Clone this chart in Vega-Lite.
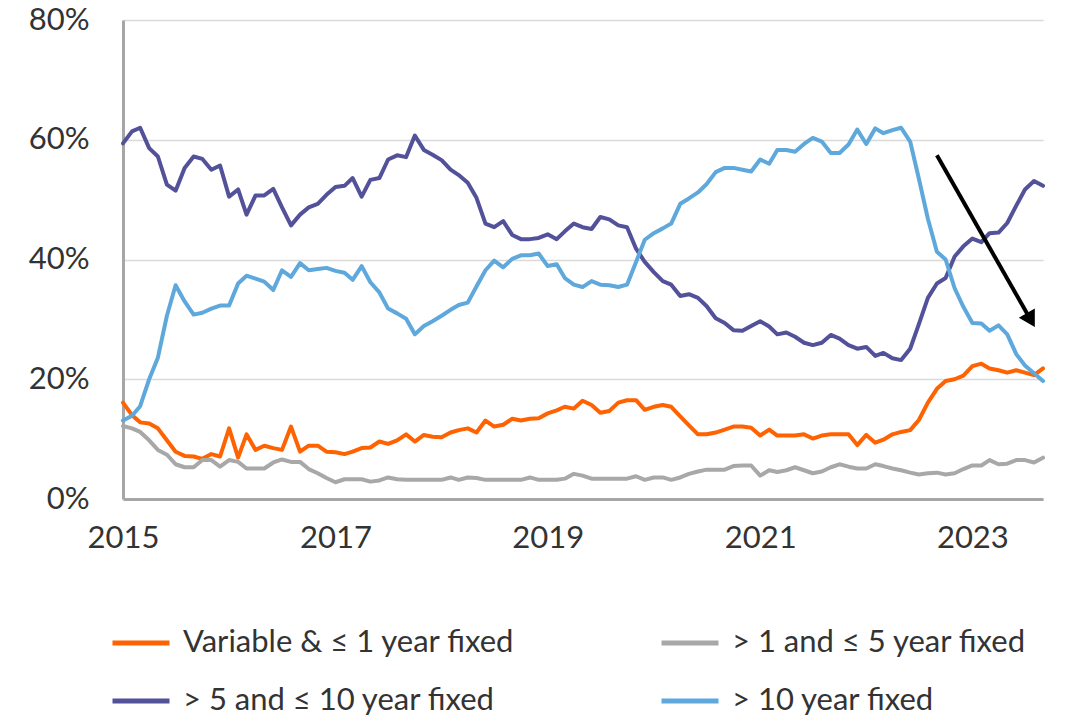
{
  "$schema": "https://vega.github.io/schema/vega-lite/v6.json",
  "width": 920,
  "height": 479,
  "autosize": "none",
  "padding": {"left": 123, "top": 20, "right": 26, "bottom": 222},
  "background": "white",
  "config": {"font": "Lato", "view": {"stroke": null}},
  "layer": [
    {
      "data": {"values": [
        {"d":"2015-01","v":16.1,"g":12.2,"p":59.4,"b":13.1},
        {"d":"2015-02","v":14,"g":11.8,"p":61.4,"b":13.9},
        {"d":"2015-03","v":12.8,"g":11.2,"p":62,"b":15.5},
        {"d":"2015-04","v":12.6,"g":9.8,"p":58.6,"b":20},
        {"d":"2015-05","v":11.8,"g":8.2,"p":57.2,"b":23.6},
        {"d":"2015-06","v":9.8,"g":7.4,"p":52.5,"b":30.6},
        {"d":"2015-07","v":7.9,"g":5.8,"p":51.5,"b":35.7},
        {"d":"2015-08","v":7.2,"g":5.3,"p":55.3,"b":33},
        {"d":"2015-09","v":7.1,"g":5.3,"p":57.2,"b":30.8},
        {"d":"2015-10","v":6.7,"g":6.5,"p":56.8,"b":31.1},
        {"d":"2015-11","v":7.5,"g":6.5,"p":55,"b":31.8},
        {"d":"2015-12","v":7.1,"g":5.4,"p":55.7,"b":32.3},
        {"d":"2016-01","v":11.8,"g":6.5,"p":50.5,"b":32.3},
        {"d":"2016-02","v":6.9,"g":6.2,"p":51.7,"b":36},
        {"d":"2016-03","v":10.8,"g":5.1,"p":47.5,"b":37.3},
        {"d":"2016-04","v":8.2,"g":5.1,"p":50.7,"b":36.8},
        {"d":"2016-05","v":8.9,"g":5.1,"p":50.7,"b":36.3},
        {"d":"2016-06","v":8.5,"g":6.1,"p":51.8,"b":34.9},
        {"d":"2016-07","v":8.2,"g":6.6,"p":48.7,"b":38.2},
        {"d":"2016-08","v":12.1,"g":6.2,"p":45.7,"b":37.1},
        {"d":"2016-09","v":7.9,"g":6.2,"p":47.5,"b":39.4},
        {"d":"2016-10","v":8.9,"g":5,"p":48.7,"b":38.2},
        {"d":"2016-11","v":8.9,"g":4.3,"p":49.3,"b":38.4},
        {"d":"2016-12","v":7.9,"g":3.5,"p":50.8,"b":38.6},
        {"d":"2017-01","v":7.8,"g":2.8,"p":52.1,"b":38.1},
        {"d":"2017-02","v":7.5,"g":3.3,"p":52.3,"b":37.8},
        {"d":"2017-03","v":7.9,"g":3.3,"p":53.6,"b":36.6},
        {"d":"2017-04","v":8.5,"g":3.3,"p":50.5,"b":38.9},
        {"d":"2017-05","v":8.6,"g":2.9,"p":53.3,"b":36.2},
        {"d":"2017-06","v":9.6,"g":3.1,"p":53.6,"b":34.5},
        {"d":"2017-07","v":9.2,"g":3.6,"p":56.7,"b":31.8},
        {"d":"2017-08","v":9.8,"g":3.3,"p":57.4,"b":31},
        {"d":"2017-09","v":10.8,"g":3.2,"p":57.1,"b":30.1},
        {"d":"2017-10","v":9.6,"g":3.2,"p":60.7,"b":27.5},
        {"d":"2017-11","v":10.7,"g":3.2,"p":58.3,"b":28.9},
        {"d":"2017-12","v":10.4,"g":3.2,"p":57.5,"b":29.7},
        {"d":"2018-01","v":10.3,"g":3.2,"p":56.6,"b":30.6},
        {"d":"2018-02","v":11.1,"g":3.6,"p":55,"b":31.6},
        {"d":"2018-03","v":11.5,"g":3.2,"p":54.1,"b":32.4},
        {"d":"2018-04","v":11.8,"g":3.6,"p":52.8,"b":32.8},
        {"d":"2018-05","v":11.1,"g":3.5,"p":50.3,"b":35.5},
        {"d":"2018-06","v":13.1,"g":3.2,"p":46,"b":38.2},
        {"d":"2018-07","v":12.1,"g":3.2,"p":45.4,"b":39.8},
        {"d":"2018-08","v":12.4,"g":3.2,"p":46.4,"b":38.7},
        {"d":"2018-09","v":13.4,"g":3.2,"p":44.1,"b":40.1},
        {"d":"2018-10","v":13.1,"g":3.2,"p":43.4,"b":40.7},
        {"d":"2018-11","v":13.4,"g":3.6,"p":43.4,"b":40.7},
        {"d":"2018-12","v":13.5,"g":3.2,"p":43.6,"b":41},
        {"d":"2019-01","v":14.3,"g":3.2,"p":44.2,"b":38.9},
        {"d":"2019-02","v":14.8,"g":3.2,"p":43.4,"b":39.2},
        {"d":"2019-03","v":15.4,"g":3.4,"p":44.7,"b":36.9},
        {"d":"2019-04","v":15.1,"g":4.2,"p":46,"b":35.8},
        {"d":"2019-05","v":16.4,"g":3.9,"p":45.4,"b":35.4},
        {"d":"2019-06","v":15.7,"g":3.4,"p":45.1,"b":36.4},
        {"d":"2019-07","v":14.4,"g":3.4,"p":47.1,"b":35.8},
        {"d":"2019-08","v":14.7,"g":3.4,"p":46.7,"b":35.7},
        {"d":"2019-09","v":16.1,"g":3.4,"p":45.7,"b":35.4},
        {"d":"2019-10","v":16.5,"g":3.4,"p":45.4,"b":35.8},
        {"d":"2019-11","v":16.5,"g":3.8,"p":41.8,"b":39.6},
        {"d":"2019-12","v":14.9,"g":3.2,"p":39.6,"b":43.3},
        {"d":"2020-01","v":15.4,"g":3.6,"p":37.9,"b":44.4},
        {"d":"2020-02","v":15.7,"g":3.6,"p":36.4,"b":45.2},
        {"d":"2020-03","v":15.4,"g":3.2,"p":35.8,"b":46},
        {"d":"2020-04","v":13.8,"g":3.6,"p":33.9,"b":49.3},
        {"d":"2020-05","v":12.3,"g":4.2,"p":34.2,"b":50.2},
        {"d":"2020-06","v":10.8,"g":4.6,"p":33.6,"b":51.2},
        {"d":"2020-07","v":10.8,"g":4.9,"p":32.2,"b":52.6},
        {"d":"2020-08","v":11.1,"g":4.9,"p":30.2,"b":54.6},
        {"d":"2020-09","v":11.6,"g":4.9,"p":29.4,"b":55.3},
        {"d":"2020-10","v":12.1,"g":5.5,"p":28.2,"b":55.3},
        {"d":"2020-11","v":12.1,"g":5.6,"p":28.1,"b":55},
        {"d":"2020-12","v":11.9,"g":5.6,"p":28.9,"b":54.7},
        {"d":"2021-01","v":10.6,"g":3.9,"p":29.7,"b":56.7},
        {"d":"2021-02","v":11.6,"g":4.8,"p":28.8,"b":56},
        {"d":"2021-03","v":10.6,"g":4.5,"p":27.5,"b":58.3},
        {"d":"2021-04","v":10.6,"g":4.8,"p":27.8,"b":58.3},
        {"d":"2021-05","v":10.6,"g":5.3,"p":27.1,"b":58},
        {"d":"2021-06","v":10.8,"g":4.8,"p":26.1,"b":59.3},
        {"d":"2021-07","v":10.1,"g":4.3,"p":25.7,"b":60.3},
        {"d":"2021-08","v":10.6,"g":4.6,"p":26.1,"b":59.7},
        {"d":"2021-09","v":10.8,"g":5.3,"p":27.4,"b":57.8},
        {"d":"2021-10","v":10.8,"g":5.8,"p":26.8,"b":57.8},
        {"d":"2021-11","v":10.8,"g":5.4,"p":25.7,"b":59.2},
        {"d":"2021-12","v":9,"g":5.1,"p":25.1,"b":61.7},
        {"d":"2022-01","v":10.7,"g":5.1,"p":25.4,"b":59.3},
        {"d":"2022-02","v":9.4,"g":5.8,"p":23.9,"b":61.9},
        {"d":"2022-03","v":9.9,"g":5.5,"p":24.4,"b":61.1},
        {"d":"2022-04","v":10.8,"g":5.1,"p":23.5,"b":61.6},
        {"d":"2022-05","v":11.2,"g":4.8,"p":23.2,"b":62},
        {"d":"2022-06","v":11.5,"g":4.4,"p":25.1,"b":59.7},
        {"d":"2022-07","v":13.2,"g":4.1,"p":29.2,"b":53.5},
        {"d":"2022-08","v":16.1,"g":4.3,"p":33.6,"b":46.8},
        {"d":"2022-09","v":18.4,"g":4.4,"p":36,"b":41.3},
        {"d":"2022-10","v":19.7,"g":4.1,"p":36.9,"b":40},
        {"d":"2022-11","v":20,"g":4.3,"p":40.5,"b":35.2},
        {"d":"2022-12","v":20.6,"g":5,"p":42.2,"b":32.1},
        {"d":"2023-01","v":22.2,"g":5.6,"p":43.5,"b":29.4},
        {"d":"2023-02","v":22.6,"g":5.6,"p":42.9,"b":29.3},
        {"d":"2023-03","v":21.8,"g":6.5,"p":44.4,"b":28.1},
        {"d":"2023-04","v":21.5,"g":5.8,"p":44.5,"b":29},
        {"d":"2023-05","v":21.1,"g":5.9,"p":46.1,"b":27.5},
        {"d":"2023-06","v":21.5,"g":6.5,"p":49,"b":24.2},
        {"d":"2023-07","v":21.1,"g":6.5,"p":51.7,"b":22.3},
        {"d":"2023-08","v":20.7,"g":6.1,"p":53.1,"b":21},
        {"d":"2023-09","v":21.8,"g":6.9,"p":52.3,"b":19.7}
      ]},
      "transform": [{"fold": ["v", "g", "p", "b"], "as": ["s", "val"]}],
      "mark": {"type": "line", "strokeWidth": 4, "strokeJoin": "round", "strokeCap": "round"},
      "encoding": {
        "x": {
          "field": "d", "type": "temporal",
          "scale": {"type": "utc", "domain": [{"year": 2015, "month": 1, "date": 1, "utc": true}, {"year": 2023, "month": 9, "date": 1, "utc": true}]},
          "axis": {
            "title": null, "grid": false, "ticks": false, "labelFlush": false,
            "values": [{"year": 2015, "month": 1, "date": 1, "utc": true}, {"year": 2017, "month": 1, "date": 1, "utc": true}, {"year": 2019, "month": 1, "date": 1, "utc": true}, {"year": 2021, "month": 1, "date": 1, "utc": true}, {"year": 2023, "month": 1, "date": 1, "utc": true}],
            "labelExpr": "utcFormat(datum.value, '%Y')",
            "domainColor": "#A6A6A6", "domainWidth": 3,
            "labelFontSize": 31, "labelColor": "#333333", "labelPadding": 24
          }
        },
        "y": {
          "field": "val", "type": "quantitative",
          "scale": {"domain": [0, 80]},
          "axis": {
            "title": null, "ticks": false, "values": [0, 20, 40, 60, 80],
            "labelExpr": "datum.value + '%'",
            "grid": true, "gridColor": "#D9D9D9", "gridWidth": 1.5,
            "domainColor": "#A6A6A6", "domainWidth": 3,
            "labelFontSize": 31, "labelColor": "#333333", "labelPadding": 34
          }
        },
        "color": {
          "field": "s", "type": "nominal",
          "scale": {"domain": ["v", "g", "p", "b"], "range": ["#FF6200", "#A8A8A8", "#525199", "#5EA8DC"]},
          "legend": {
            "title": null, "orient": "none", "legendX": -13, "legendY": 592,
            "direction": "horizontal", "columns": 2, "padding": 0,
            "symbolType": "stroke", "symbolSize": 3249, "symbolStrokeWidth": 5,
            "labelFontSize": 31, "labelColor": "#333333", "labelOffset": 11, "labelLimit": 0,
            "columnPadding": 136, "rowPadding": 12,
            "labelExpr": "{'v': 'Variable & ≤ 1 year fixed', 'g': '> 1 and ≤ 5 year fixed', 'p': '> 5 and ≤ 10 year fixed', 'b': '> 10 year fixed'}[datum.value]"
          }
        }
      }
    },
    {
      "data": {"values": [{"x1": "2022-09-01", "y1": 57.4, "x2": "2023-07-21", "y2": 29.9}]},
      "mark": {"type": "rule", "color": "#000000", "strokeWidth": 4},
      "encoding": {
        "x": {"field": "x1", "type": "temporal"},
        "y": {"field": "y1", "type": "quantitative"},
        "x2": {"field": "x2"},
        "y2": {"field": "y2"}
      }
    },
    {
      "data": {"values": [{"x": "2023-07-21", "y": 29.9}]},
      "mark": {"type": "point", "shape": "triangle-down", "angle": -30, "size": 340, "filled": true, "color": "#000000", "opacity": 1},
      "encoding": {
        "x": {"field": "x", "type": "temporal"},
        "y": {"field": "y", "type": "quantitative"}
      }
    }
  ]
}
